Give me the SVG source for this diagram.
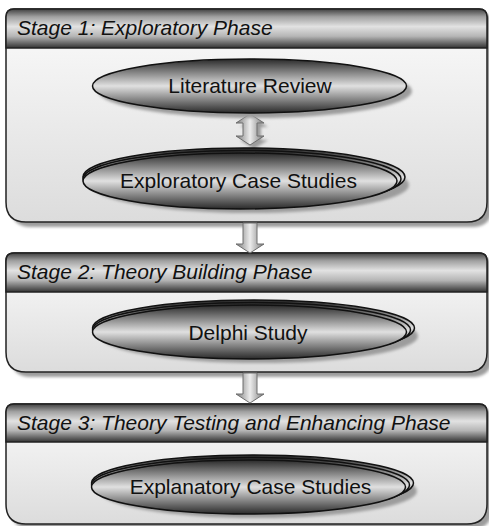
<svg xmlns="http://www.w3.org/2000/svg" width="489" height="526" viewBox="0 0 489 526">
  <defs>
    <linearGradient id="gHeader" x1="0" y1="0" x2="0" y2="1">
      <stop offset="0" stop-color="#404040"/>
      <stop offset="0.2" stop-color="#a0a0a0"/>
      <stop offset="0.45" stop-color="#e2e2e2"/>
      <stop offset="0.7" stop-color="#b5b5b5"/>
      <stop offset="1" stop-color="#333"/>
    </linearGradient>
    <linearGradient id="gBody" x1="0" y1="0" x2="0" y2="1">
      <stop offset="0" stop-color="#fbfbfb"/>
      <stop offset="1" stop-color="#dcdcdc"/>
    </linearGradient>
    <linearGradient id="gEll" x1="0" y1="0" x2="0" y2="1">
      <stop offset="0" stop-color="#2a2a2a"/>
      <stop offset="0.25" stop-color="#858585"/>
      <stop offset="0.5" stop-color="#e0e0e0"/>
      <stop offset="0.75" stop-color="#858585"/>
      <stop offset="1" stop-color="#2a2a2a"/>
    </linearGradient>
    <linearGradient id="gArrow" x1="0" y1="0" x2="1" y2="0">
      <stop offset="0" stop-color="#7a7a7a"/>
      <stop offset="0.5" stop-color="#ececec"/>
      <stop offset="1" stop-color="#7a7a7a"/>
    </linearGradient>
    <filter id="soft" x="-10%" y="-10%" width="120%" height="130%">
      <feGaussianBlur stdDeviation="1.5"/>
    </filter>
  </defs>
  <style>
    .shadow { fill: #9c9c9c; filter: url(#soft); }
    .body { fill: url(#gBody); stroke: #222; stroke-width: 1.5; }
    .header { fill: url(#gHeader); stroke: #222; stroke-width: 1.5; }
    .ell { fill: url(#gEll); stroke: #111; stroke-width: 1.5; }
    .arrow { fill: url(#gArrow); stroke: #6e6e6e; stroke-width: 1; }
    .htext { font-family: "Liberation Sans", Arial, sans-serif; font-size: 21px; font-style: italic; fill: #111; }
    .ntext { font-family: "Liberation Sans", Arial, sans-serif; font-size: 21px; fill: #111; text-anchor: middle; }
  </style>

  <!-- Stage 1 container -->
  <g id="stage1">
    <path class="shadow" d="M11,22 Q11,14 19,14 H484 Q492,14 492,22 V207 Q492,227 472,227 H31 Q11,227 11,207 Z"/>
    <path class="body" d="M6,17 Q6,9 14,9 H479 Q487,9 487,17 V202 Q487,222 467,222 H26 Q6,222 6,202 Z"/>
    <path class="header" d="M6,48 V17 Q6,9 14,9 H479 Q487,9 487,17 V48 Z"/>
    <text class="htext" x="17" y="35">Stage 1: Exploratory Phase</text>
  </g>

  <!-- Stage 2 container -->
  <g id="stage2">
    <path class="shadow" d="M11,266 Q11,258 19,258 H484 Q492,258 492,266 V357 Q492,377 472,377 H31 Q11,377 11,357 Z"/>
    <path class="body" d="M6,261 Q6,253 14,253 H479 Q487,253 487,261 V352 Q487,372 467,372 H26 Q6,372 6,352 Z"/>
    <path class="header" d="M6,292 V261 Q6,253 14,253 H479 Q487,253 487,261 V292 Z"/>
    <text class="htext" x="17" y="279">Stage 2: Theory Building Phase</text>
  </g>

  <!-- Stage 3 container -->
  <g id="stage3">
    <path class="shadow" d="M11,417 Q11,409 19,409 H484 Q492,409 492,417 V509 Q492,529 472,529 H31 Q11,529 11,509 Z"/>
    <path class="body" d="M6,412 Q6,404 14,404 H479 Q487,404 487,412 V504 Q487,524 467,524 H26 Q6,524 6,504 Z"/>
    <path class="header" d="M6,442 V412 Q6,404 14,404 H479 Q487,404 487,412 V442 Z"/>
    <text class="htext" x="17" y="430">Stage 3: Theory Testing and Enhancing Phase</text>
  </g>

  <!-- Connectors -->
  <g id="connectors">
    <path class="shadow" d="M254,118 L268,127 L261,127 L261,140 L268,140 L254,149 L240,140 L247,140 L247,127 L240,127 Z"/>
    <path class="arrow" d="M250,114 L264,123 L257,123 L257,136 L264,136 L250,145 L236,136 L243,136 L243,123 L236,123 Z"/>
    <path class="arrow" d="M243,223 H257 V244 H264 L250,253 L236,244 H243 Z"/>
    <path class="arrow" d="M243,373 H257 V394 H264 L250,403 L236,394 H243 Z"/>
  </g>

  <!-- Literature Review -->
  <g id="literature-review">
    <ellipse class="shadow" cx="255" cy="91" rx="157" ry="27"/>
    <ellipse class="ell" cx="249.5" cy="86" rx="157" ry="27"/>
    <text class="ntext" x="250" y="93">Literature Review</text>
  </g>

  <!-- Exploratory Case Studies: three stacked copies sharing the left tip -->
  <g id="exploratory-case-studies">
    <ellipse class="shadow" cx="250" cy="185" rx="159" ry="28"/>
    <ellipse class="ell" cx="244" cy="177" rx="161" ry="29"/>
    <ellipse class="ell" cx="242" cy="179" rx="159" ry="28.5"/>
    <ellipse class="ell" cx="240" cy="181" rx="157" ry="28"/>
    <text class="ntext" x="238.5" y="188">Exploratory Case Studies</text>
  </g>

  <!-- Delphi Study: three stacked copies -->
  <g id="delphi-study">
    <ellipse class="shadow" cx="259" cy="336" rx="159" ry="27"/>
    <ellipse class="ell" cx="253.5" cy="328" rx="161" ry="28"/>
    <ellipse class="ell" cx="251.5" cy="330" rx="159" ry="27.5"/>
    <ellipse class="ell" cx="249.5" cy="332" rx="157" ry="27"/>
    <text class="ntext" x="248" y="340">Delphi Study</text>
  </g>

  <!-- Explanatory Case Studies: three stacked copies -->
  <g id="explanatory-case-studies">
    <ellipse class="shadow" cx="258" cy="491" rx="159" ry="27"/>
    <ellipse class="ell" cx="252.5" cy="483" rx="161" ry="28"/>
    <ellipse class="ell" cx="250.5" cy="485" rx="159" ry="27.5"/>
    <ellipse class="ell" cx="248.5" cy="487" rx="157" ry="27"/>
    <text class="ntext" x="250.5" y="494">Explanatory Case Studies</text>
  </g>
</svg>
